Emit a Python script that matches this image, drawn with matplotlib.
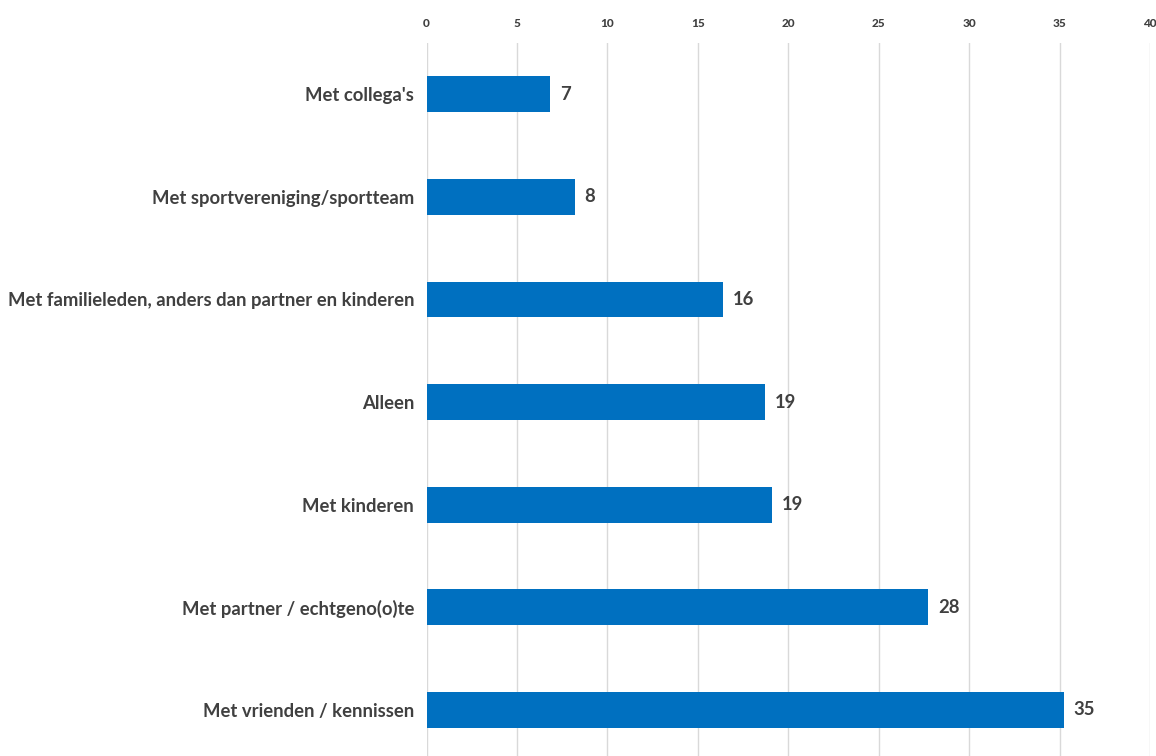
import matplotlib
matplotlib.use("Agg")
import matplotlib.pyplot as plt

categories = ["Met collega's", "Met sportvereniging/sportteam",
              "Met familieleden, anders dan partner en kinderen", "Alleen",
              "Met kinderen", "Met partner / echtgeno(o)te", "Met vrienden / kennissen"]
values = [6.83, 8.21, 16.41, 18.73, 19.12, 27.74, 35.24]
value_labels = ["7", "8", "16", "19", "19", "28", "35"]
xticks = [0, 5, 10, 15, 20, 25, 30, 35, 40]

plt.rcParams['font.family'] = ['Lato', 'DejaVu Sans']
text_color = '#404040'
bar_color = '#0070C0'

fig = plt.figure(figsize=(11.56, 7.56), dpi=100)
W, H = 1156, 756
left, right, top, bottom = 426.5, 1150, 43, 756
ax = fig.add_axes([left / W, 1 - bottom / H, (right - left) / W, (bottom - top) / H])

ypos = list(range(len(categories)))
ax.barh(ypos, values, height=0.35, color=bar_color, zorder=3)
ax.set_xlim(0, 40)
ax.set_ylim(6.45, -0.5)
ax.set_xticks(xticks)
ax.set_xticklabels([str(t) for t in xticks], fontsize=8.5, fontweight='black', color=text_color)
ax.xaxis.tick_top()
ax.tick_params(axis='x', length=0, pad=10)
ax.set_yticks(ypos)
ax.set_yticklabels(categories, fontsize=13.3, fontweight='bold', color=text_color)
ax.tick_params(axis='y', length=0, pad=9)
ax.grid(axis='x', color='#d9d9d9', linewidth=1, zorder=0)
for s in ax.spines.values():
    s.set_visible(False)

for y, v, lab in zip(ypos, values, value_labels):
    ax.annotate(lab, xy=(v, y), xytext=(7, 0), textcoords='offset points',
                va='center', ha='left', fontsize=13.3, fontweight='bold', color=text_color)

fig.savefig('out.png', dpi=100)
